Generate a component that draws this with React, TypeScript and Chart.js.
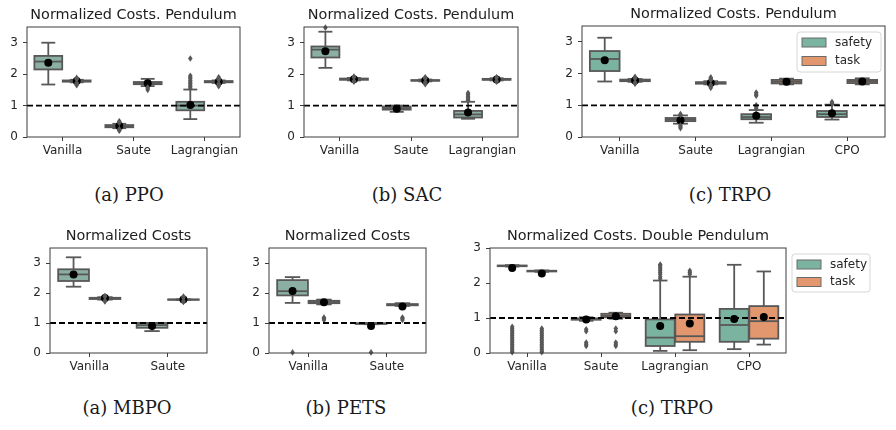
import React, { useEffect, useRef } from 'react';
import { Chart, registerables } from 'chart.js';

Chart.register(...registerables);

// Each stats row: [whiskerLow, q1, median, q3, whiskerHigh, mean]
const cats3 = ['Vanilla', 'Saute', 'Lagrangian'];
const cats4 = ['Vanilla', 'Saute', 'Lagrangian', 'CPO'];
const cats2 = ['Vanilla', 'Saute'];
const yTickValues = [0, 1, 2, 3];
const seriesNames = ['safety', 'task'];

// (a) PPO – Pendulum
const ppoSafety = [
  [1.67, 2.15, 2.4, 2.58, 3.0, 2.36],
  [0.28, 0.31, 0.34, 0.38, 0.42, 0.35],
  [0.57, 0.85, 1.0, 1.12, 1.51, 1.02],
];
const ppoSafetyFliers = [[], [0.2, 0.22, 0.25, 0.45, 0.48, 0.5], [1.55, 1.6, 1.65, 1.7, 1.75, 1.8, 1.85, 1.9, 1.95, 2.5]];
const ppoTask = [
  [1.74, 1.76, 1.78, 1.8, 1.82, 1.78],
  [1.62, 1.68, 1.72, 1.75, 1.85, 1.71],
  [1.72, 1.74, 1.76, 1.78, 1.8, 1.76],
];
const ppoTaskFliers = [[1.65, 1.68, 1.7, 1.72, 1.84, 1.86, 1.88], [1.5, 1.55, 1.58], [1.62, 1.65, 1.68, 1.7, 1.82, 1.84, 1.87, 1.9]];

// (b) SAC – Pendulum
const sacSafety = [
  [2.2, 2.53, 2.78, 2.88, 3.35, 2.73],
  [0.8, 0.87, 0.92, 0.97, 1.0, 0.9],
  [0.58, 0.62, 0.72, 0.83, 1.12, 0.78],
];
const sacSafetyFliers = [[3.48], [], [1.16, 1.2, 1.25, 1.3, 1.35, 1.4]];
const sacTask = [
  [1.8, 1.82, 1.84, 1.86, 1.88, 1.84],
  [1.77, 1.79, 1.8, 1.81, 1.83, 1.8],
  [1.8, 1.82, 1.83, 1.85, 1.87, 1.83],
];
const sacTaskFliers = [[1.76, 1.78, 1.9, 1.92], [1.68, 1.72, 1.75, 1.86, 1.88, 1.9], [1.76, 1.78, 1.88, 1.9]];

// (c) TRPO – Pendulum
const trpoSafety = [
  [1.75, 2.08, 2.46, 2.71, 3.13, 2.42],
  [0.42, 0.5, 0.55, 0.6, 0.68, 0.53],
  [0.45, 0.56, 0.63, 0.72, 0.85, 0.67],
  [0.55, 0.63, 0.72, 0.82, 1.02, 0.75],
];
const trpoSafetyFliers = [[], [0.28, 0.32, 0.36, 0.7, 0.72], [0.9, 0.95, 1.0, 1.3, 1.35, 1.4], [1.05, 1.08, 1.1]];
const trpoTask = [
  [1.74, 1.76, 1.78, 1.81, 1.83, 1.78],
  [1.66, 1.68, 1.7, 1.73, 1.76, 1.7],
  [1.66, 1.69, 1.74, 1.8, 1.84, 1.74],
  [1.66, 1.7, 1.76, 1.8, 1.85, 1.75],
];
const trpoTaskFliers = [[1.68, 1.7, 1.72, 1.85, 1.87, 1.9], [1.55, 1.6, 1.64, 1.8, 1.85, 1.88], [], []];

// (a) MBPO
const mbpoSafety = [
  [2.21, 2.4, 2.62, 2.79, 3.19, 2.62],
  [0.73, 0.84, 0.93, 1.0, 1.0, 0.9],
];
const mbpoSafetyFliers = [[], []];
const mbpoTask = [
  [1.78, 1.8, 1.82, 1.84, 1.86, 1.83],
  [1.77, 1.775, 1.78, 1.785, 1.79, 1.78],
];
const mbpoTaskFliers = [[1.72, 1.75, 1.88, 1.9], [1.7, 1.73, 1.84, 1.88]];

// (b) PETS
const petsSafety = [
  [1.67, 1.92, 2.06, 2.43, 2.53, 2.07],
  [0.96, 0.97, 0.98, 0.99, 1.0, 0.9],
];
const petsSafetyFliers = [[0.02], [0.02]];
const petsTask = [
  [1.62, 1.66, 1.7, 1.74, 1.78, 1.69],
  [1.57, 1.59, 1.61, 1.63, 1.66, 1.55],
];
const petsTaskFliers = [[1.1, 1.15, 1.18], [1.1, 1.15, 1.18]];

// (c) TRPO – Double Pendulum
const dpSafety = [
  [2.47, 2.48, 2.49, 2.5, 2.51, 2.43],
  [0.92, 0.95, 0.97, 0.99, 1.02, 0.96],
  [0.06, 0.2, 0.44, 0.96, 2.07, 0.77],
  [0.11, 0.32, 0.8, 1.26, 2.52, 0.97],
];
const dpSafetyFliers = [
  [0.02, 0.05, 0.1, 0.15, 0.2, 0.25, 0.3, 0.35, 0.4, 0.45, 0.5, 0.55, 0.6, 0.65, 0.7, 0.75],
  [0.2, 0.25, 0.3, 0.62, 0.68],
  [2.12, 2.18, 2.25, 2.3, 2.35, 2.4, 2.45, 2.5, 2.53],
  [],
];
const dpTask = [
  [2.32, 2.33, 2.34, 2.35, 2.36, 2.27],
  [0.98, 1.02, 1.06, 1.12, 1.15, 1.05],
  [0.08, 0.32, 0.48, 1.1, 2.18, 0.84],
  [0.24, 0.41, 0.91, 1.34, 2.33, 1.03],
];
const dpTaskFliers = [
  [0.02, 0.05, 0.1, 0.15, 0.2, 0.25, 0.3, 0.35, 0.4, 0.45, 0.5, 0.55, 0.6, 0.65, 0.7],
  [0.2, 0.25, 0.3, 0.62, 0.7],
  [2.25, 2.3, 2.35],
  [],
];

const LINE = '#585858';
const softPalette = ['#8bb0a3', '#e2a07e'];
const dpPalette = ['#7bb3a1', '#e2976f'];

type PanelDef = {
  title: string;
  cats: string[];
  safety: number[][];
  safetyFliers: number[][];
  task: number[][];
  taskFliers: number[][];
  L: number; R: number; T: number; B: number;
  ymax: number;
  legend: 'none' | 'inside' | 'outside';
  palette: string[];
};

const panels: PanelDef[] = [
  { title: 'Normalized Costs. Pendulum', cats: cats3, safety: ppoSafety, safetyFliers: ppoSafetyFliers, task: ppoTask, taskFliers: ppoTaskFliers, L: 27, R: 240, T: 27, B: 137, ymax: 3.5, legend: 'none', palette: softPalette },
  { title: 'Normalized Costs. Pendulum', cats: cats3, safety: sacSafety, safetyFliers: sacSafetyFliers, task: sacTask, taskFliers: sacTaskFliers, L: 304, R: 518, T: 27, B: 137, ymax: 3.5, legend: 'none', palette: softPalette },
  { title: 'Normalized Costs. Pendulum', cats: cats4, safety: trpoSafety, safetyFliers: trpoSafetyFliers, task: trpoTask, taskFliers: trpoTaskFliers, L: 582, R: 885, T: 26, B: 137, ymax: 3.5, legend: 'inside', palette: dpPalette },
  { title: 'Normalized Costs', cats: cats2, safety: mbpoSafety, safetyFliers: mbpoSafetyFliers, task: mbpoTask, taskFliers: mbpoTaskFliers, L: 50, R: 207, T: 248, B: 353, ymax: 3.5, legend: 'none', palette: softPalette },
  { title: 'Normalized Costs', cats: cats2, safety: petsSafety, safetyFliers: petsSafetyFliers, task: petsTask, taskFliers: petsTaskFliers, L: 269, R: 426, T: 248, B: 353, ymax: 3.5, legend: 'none', palette: softPalette },
  { title: 'Normalized Costs. Double Pendulum', cats: cats4, safety: dpSafety, safetyFliers: dpSafetyFliers, task: dpTask, taskFliers: dpTaskFliers, L: 490, R: 786, T: 248, B: 353, ymax: 3, legend: 'outside', palette: dpPalette },
];

const captions = [
  { text: '(a) PPO', x: 129, y: 195 },
  { text: '(b) SAC', x: 407, y: 195 },
  { text: '(c) TRPO', x: 730, y: 195 },
  { text: '(a) MBPO', x: 127, y: 408 },
  { text: '(b) PETS', x: 346, y: 408 },
  { text: '(c) TRPO', x: 672, y: 408 },
];

const Y_AXIS_W = 30;
const TITLE_H = 26;
const X_AXIS_H = 24;

function padRightFor(p: PanelDef) {
  return p.legend === 'outside' ? 95 : 6;
}

const boxPlugin = {
  id: 'boxDraw',
  afterDatasetsDraw(chart: any, _args: any, opts: any) {
    const ctx: CanvasRenderingContext2D = chart.ctx;
    const ys = chart.scales.y;
    const area = chart.chartArea;
    const py = (v: number) => ys.getPixelForValue(v);
    ctx.save();
    ctx.lineCap = 'butt';
    const seg = (x1: number, y1: number, x2: number, y2: number) => {
      ctx.beginPath();
      ctx.moveTo(x1, y1);
      ctx.lineTo(x2, y2);
      ctx.stroke();
    };
    chart.data.datasets.forEach((ds: any, di: number) => {
      const meta = chart.getDatasetMeta(di);
      meta.data.forEach((el: any, i: number) => {
        const s = ds.stats[i];
        const fl = ds.fliers[i] || [];
        const x = el.x;
        const w = el.width;
        const hw = w / 2;
        ctx.strokeStyle = LINE;
        ctx.lineWidth = 1.8;
        // whiskers
        seg(x, py(s[1]), x, py(s[0]));
        seg(x, py(s[3]), x, py(s[4]));
        // caps
        seg(x - hw / 2, py(s[0]), x + hw / 2, py(s[0]));
        seg(x - hw / 2, py(s[4]), x + hw / 2, py(s[4]));
        // box outline
        ctx.strokeRect(x - hw, py(s[3]), w, py(s[1]) - py(s[3]));
        // median
        seg(x - hw, py(s[2]), x + hw, py(s[2]));
        // mean
        ctx.fillStyle = '#000';
        ctx.beginPath();
        ctx.arc(x, py(s[5]), 4, 0, Math.PI * 2);
        ctx.fill();
        // fliers (diamonds)
        ctx.fillStyle = LINE;
        fl.forEach((v: number) => {
          const yy = py(v);
          ctx.beginPath();
          ctx.moveTo(x, yy - 3.3);
          ctx.lineTo(x + 2.3, yy);
          ctx.lineTo(x, yy + 3.3);
          ctx.lineTo(x - 2.3, yy);
          ctx.closePath();
          ctx.fill();
        });
      });
    });
    // reference dashed line at 1
    ctx.strokeStyle = '#000';
    ctx.lineWidth = 1.8;
    ctx.setLineDash([6, 3]);
    seg(area.left, py(1), area.right, py(1));
    ctx.setLineDash([]);
    // frame
    ctx.strokeStyle = '#3c3c3c';
    ctx.lineWidth = 1;
    ctx.strokeRect(area.left, area.top, area.right - area.left, area.bottom - area.top);

    // legend
    const mode = opts.mode;
    if (mode === 'inside' || mode === 'outside') {
      const bw = mode === 'inside' ? 84 : 78;
      const bh = mode === 'inside' ? 40 : 38;
      const bx = mode === 'inside' ? area.right - bw - 4 : area.right + 6;
      const by = area.top + 6;
      const r = 3;
      ctx.beginPath();
      ctx.moveTo(bx + r, by);
      ctx.lineTo(bx + bw - r, by);
      ctx.quadraticCurveTo(bx + bw, by, bx + bw, by + r);
      ctx.lineTo(bx + bw, by + bh - r);
      ctx.quadraticCurveTo(bx + bw, by + bh, bx + bw - r, by + bh);
      ctx.lineTo(bx + r, by + bh);
      ctx.quadraticCurveTo(bx, by + bh, bx, by + bh - r);
      ctx.lineTo(bx, by + r);
      ctx.quadraticCurveTo(bx, by, bx + r, by);
      ctx.closePath();
      ctx.fillStyle = 'rgba(255,255,255,0.85)';
      ctx.fill();
      ctx.strokeStyle = '#d6d6d6';
      ctx.lineWidth = 1;
      ctx.stroke();
      const rowH = mode === 'inside' ? 18.5 : 17.5;
      chart.data.datasets.forEach((ds: any, di: number) => {
        const cy = by + 10.5 + di * rowH;
        ctx.fillStyle = ds.backgroundColor;
        ctx.fillRect(bx + 5, cy - 4.5, 24, 9);
        ctx.strokeStyle = '#6a6a6a';
        ctx.lineWidth = 1;
        ctx.strokeRect(bx + 5, cy - 4.5, 24, 9);
        ctx.fillStyle = '#262626';
        ctx.font = '12px "DejaVu Sans"';
        ctx.textBaseline = 'middle';
        ctx.textAlign = 'left';
        ctx.fillText(ds.label, bx + 38, cy);
      });
    }
    ctx.restore();
  },
};

function buildConfig(p: PanelDef): any {
  const makeDs = (name: string, stats: number[][], fliers: number[][], color: string) => ({
    label: name,
    data: stats.map((s) => [s[1], s[3]]),
    stats,
    fliers,
    backgroundColor: color,
    borderWidth: 0,
    categoryPercentage: 0.8,
    barPercentage: 0.98,
  });
  return {
    type: 'bar',
    data: {
      labels: p.cats,
      datasets: [
        makeDs(seriesNames[0], p.safety, p.safetyFliers, p.palette[0]),
        makeDs(seriesNames[1], p.task, p.taskFliers, p.palette[1]),
      ],
    },
    options: {
      responsive: false,
      animation: false,
      devicePixelRatio: 1,
      events: [],
      layout: { padding: { left: 0, right: padRightFor(p), top: 0, bottom: 0 } },
      plugins: {
        legend: { display: false },
        tooltip: { enabled: false },
        title: {
          display: true,
          text: p.title,
          fullSize: false,
          color: '#1e1e1e',
          font: { family: 'DejaVu Sans', size: 14.4, weight: 'normal', lineHeight: 1.2 },
          padding: { top: 6, bottom: TITLE_H - 6 - 17.28 },
        },
        boxDraw: { mode: p.legend },
      },
      scales: {
        x: {
          type: 'category',
          offset: true,
          grid: { display: true, drawOnChartArea: false, drawTicks: true, tickLength: 4, offset: false, color: '#3c3c3c', lineWidth: 1 },
          border: { display: false },
          ticks: { color: '#262626', font: { family: 'DejaVu Sans', size: 12 }, padding: 3, maxRotation: 0, autoSkip: false },
          afterFit: (s: any) => { s.height = X_AXIS_H; },
        },
        y: {
          type: 'linear',
          min: 0,
          max: p.ymax,
          grid: { display: true, drawOnChartArea: false, drawTicks: true, tickLength: 4, color: '#3c3c3c', lineWidth: 1 },
          border: { display: false },
          ticks: { color: '#262626', font: { family: 'DejaVu Sans', size: 12 }, padding: 5 },
          afterBuildTicks: (s: any) => { s.ticks = yTickValues.map((v) => ({ value: v })); },
          afterFit: (s: any) => { s.width = Y_AXIS_W; },
        },
      },
    },
    plugins: [boxPlugin],
  };
}

function Panel({ p }: { p: PanelDef }) {
  const ref = useRef<HTMLCanvasElement | null>(null);
  const width = Y_AXIS_W + (p.R - p.L) + padRightFor(p);
  const height = TITLE_H + (p.B - p.T) + X_AXIS_H;
  useEffect(() => {
    if (!ref.current) return;
    const chart = new Chart(ref.current, buildConfig(p));
    return () => chart.destroy();
  }, [p]);
  return (
    <canvas
      ref={ref}
      width={width}
      height={height}
      style={{ position: 'absolute', left: p.L - Y_AXIS_W, top: p.T - TITLE_H, width, height }}
    />
  );
}

export default function App() {
  return (
    <div style={{ position: 'fixed', left: 0, top: 0, width: 896, height: 430, background: '#fff', overflow: 'hidden' }}>
      {panels.map((p, i) => (
        <Panel key={i} p={p} />
      ))}
      {captions.map((c, i) => (
        <div
          key={'c' + i}
          style={{
            position: 'absolute',
            left: c.x,
            top: c.y,
            transform: 'translate(-50%, -50%)',
            fontFamily: '"DejaVu Serif", serif',
            fontSize: 18,
            lineHeight: 1,
            color: '#1a1a1a',
            whiteSpace: 'nowrap',
          }}
        >
          {c.text}
        </div>
      ))}
    </div>
  );
}
